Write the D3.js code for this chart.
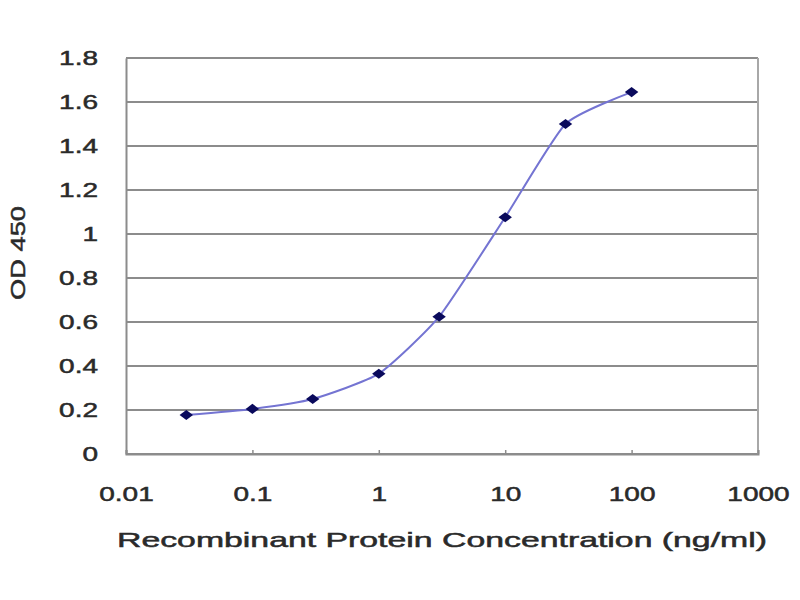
<!DOCTYPE html>
<html>
<head>
<meta charset="utf-8">
<script src="https://cdn.jsdelivr.net/npm/d3@7"></script>
<style>
  body { margin: 0; background: #fff; }
  svg text { font-family: "Liberation Sans", Arial, sans-serif; fill: #2a2a2a; stroke: #2a2a2a; stroke-width: 0.5px; }
</style>
</head>
<body>
<svg id="chart" width="800" height="600"></svg>
<script>
// concentration (ng/ml) and OD 450 readings
const concentrations = [0.03, 0.1, 0.3, 1, 3, 10, 30, 100];
const odValues = [0.177, 0.205, 0.25, 0.365, 0.624, 1.076, 1.5, 1.645];

const xTicks = [0.01, 0.1, 1, 10, 100, 1000];
const xTickLabels = ["0.01", "0.1", "1", "10", "100", "1000"];
const yTicks = [0, 0.2, 0.4, 0.6, 0.8, 1, 1.2, 1.4, 1.6, 1.8];

const xTitle = "Recombinant Protein Concentration (ng/ml)";
const yTitle = "OD 450";

const svg = d3.select("#chart");
const margin = { left: 126, right: 42, top: 58, bottom: 146 };
const width = 800 - margin.left - margin.right;
const height = 600 - margin.top - margin.bottom;
const stretch = 1.4;
const gridColor = "#8c8c8c";

const x = d3.scaleLog().domain([0.01, 1000]).range([0, width]);
const y = d3.scaleLinear().domain([0, 1.8]).range([height, 0]);

const g = svg.append("g").attr("transform", `translate(${margin.left},${margin.top})`);

// horizontal grid
g.append("g")
  .selectAll("line")
  .data(yTicks)
  .join("line")
  .attr("x1", 0)
  .attr("x2", width)
  .attr("y1", (d) => y(d))
  .attr("y2", (d) => y(d))
  .attr("stroke", gridColor)
  .attr("stroke-width", 2);

// right border
g.append("line")
  .attr("x1", width)
  .attr("x2", width)
  .attr("y1", 0)
  .attr("y2", height)
  .attr("stroke", "#a8a8a8")
  .attr("stroke-width", 2);

const yAxis = g.append("g").call(d3.axisLeft(y).tickValues(yTicks).tickSize(0).tickFormat(d3.format("~g")));
yAxis.select(".domain").attr("stroke", gridColor).attr("stroke-width", 2);
yAxis
  .selectAll("text")
  .attr("font-size", 20)
  .attr("x", -28 / stretch)
  .attr("transform", `scale(${stretch},1)`);

const xAxis = g
  .append("g")
  .attr("transform", `translate(0,${height})`)
  .call(d3.axisBottom(x).tickValues(xTicks).tickSize(-4).tickFormat((d, i) => xTickLabels[i]));
xAxis.select(".domain").attr("stroke", gridColor).attr("stroke-width", 2);
xAxis.selectAll(".tick line").attr("stroke", gridColor).attr("stroke-width", 1.5);
xAxis
  .selectAll("text")
  .attr("font-size", 20)
  .attr("y", 47)
  .attr("dy", 0)
  .attr("transform", `scale(${stretch},1)`);

// smoothed curve through the readings
const line = d3
  .line()
  .x((d, i) => x(concentrations[i]))
  .y((d) => y(d))
  .curve(d3.curveCardinal.tension(0.45));

g.append("path")
  .datum(odValues)
  .attr("d", line)
  .attr("fill", "none")
  .attr("stroke", "#7474d2")
  .attr("stroke-width", 2);

const diamond = d3.symbol().type(d3.symbolDiamond2).size(80);
g.append("g")
  .selectAll("path")
  .data(odValues)
  .join("path")
  .attr("d", diamond)
  .attr("transform", (d, i) => `translate(${x(concentrations[i])},${y(d)}) scale(1.2,0.9)`)
  .attr("fill", "#0a0a5c");

svg.append("text")
  .attr("x", margin.left + width / 2)
  .attr("y", 547)
  .attr("text-anchor", "middle")
  .attr("font-size", 21)
  .attr("textLength", 650)
  .attr("lengthAdjust", "spacingAndGlyphs")
  .text(xTitle);

svg.append("text")
  .attr("transform", "translate(25,253) rotate(-90)")
  .attr("text-anchor", "middle")
  .attr("font-size", 21)
  .attr("textLength", 94)
  .attr("lengthAdjust", "spacingAndGlyphs")
  .text(yTitle);
</script>
</body>
</html>
